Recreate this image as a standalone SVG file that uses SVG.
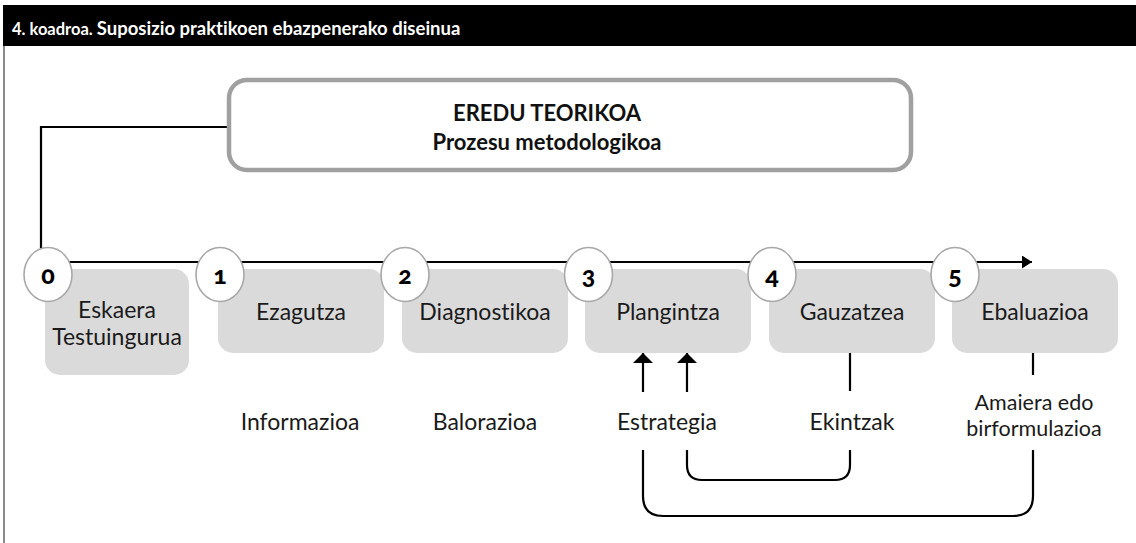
<svg xmlns="http://www.w3.org/2000/svg" width="1136" height="543" viewBox="0 0 1136 543">
<style>
.t{font-family:Lato,"Open Sans","Liberation Sans",sans-serif;fill:#1a1a1a;font-size:23px;text-anchor:middle;font-variant-ligatures:none}
.h{font-weight:bold;font-size:22px;fill:#111}
.s{font-size:21.5px}
.num{font-family:Lato,"Open Sans","Liberation Sans",sans-serif;font-weight:900;font-size:25px;fill:#000;text-anchor:middle;font-variant-numeric:oldstyle-nums}
.box{fill:#dadada}
.circ{fill:#fff;stroke:#a8a8a8;stroke-width:1.6}
.ln{fill:none;stroke:#000;stroke-width:2.2}
</style>
<defs>
<marker id="ah" viewBox="0 0 10 13" refX="10" refY="6.5" markerWidth="10" markerHeight="13" markerUnits="userSpaceOnUse" orient="auto">
<path d="M0,0 L10,6.5 L0,13 Z" fill="#000"/>
</marker>
<marker id="up" viewBox="0 0 10 20" refX="10" refY="10" markerWidth="10" markerHeight="20" markerUnits="userSpaceOnUse" orient="auto">
<path d="M0,0 L10,10 L0,20 Z" fill="#000"/>
</marker>
</defs>
<rect x="0" y="0" width="1136" height="543" fill="#fff"/>
<g id="header">
<rect x="3" y="5" width="1133" height="41" fill="#000"/>
<line x1="4" y1="46" x2="4" y2="543" stroke="#8a8a8a" stroke-width="2"/>
<text x="12" y="35" font-family="Lato,'Open Sans','Liberation Sans',sans-serif" font-weight="bold" fill="#fff" style="font-variant-ligatures:none"><tspan font-size="16.5">4. koadroa. </tspan><tspan font-size="18.5">Suposizio praktikoen ebazpenerako diseinua</tspan></text>
</g>
<g id="connectors">
<path class="ln" d="M229,127 H41 V248"/>
<path class="ln" d="M41,262 H1032" marker-end="url(#ah)"/>
<path class="ln" d="M643,392 V353" marker-end="url(#up)"/>
<path class="ln" d="M687,392 V353" marker-end="url(#up)"/>
<path class="ln" d="M850,353 V391"/>
<path class="ln" d="M1033,353 V375"/>
<path class="ln" d="M687,450 V465 Q687,480 702,480 H835 Q850,480 850,465 V450"/>
<path class="ln" d="M643,450 V496 Q643,516 663,516 H1013 Q1033,516 1033,496 V450"/>
</g>
<g id="model">
<rect x="229" y="80" width="682" height="90" rx="18" fill="#fff" stroke="#a0a0a0" stroke-width="4.5"/>
<text class="t h" x="547" y="121">EREDU TEORIKOA</text>
<text class="t h" x="547" y="150">Prozesu metodologikoa</text>
</g>
<g id="step0">
<rect class="box" x="45" y="269" width="144" height="106" rx="15"/>
<text class="t" x="117" y="318">Eskaera</text>
<text class="t" x="117" y="345">Testuingurua</text>
<ellipse class="circ" cx="48" cy="274.5" rx="24" ry="27"/>
<text class="num" x="48" y="284">0</text>
</g>
<g id="step1">
<rect class="box" x="218" y="269" width="166" height="84" rx="15"/>
<text class="t" x="301" y="320">Ezagutza</text>
<ellipse class="circ" cx="220" cy="274.5" rx="24" ry="27"/>
<text class="num" x="220" y="284">1</text>
</g>
<g id="step2">
<rect class="box" x="402" y="269" width="166" height="84" rx="15"/>
<text class="t" x="485" y="320">Diagnostikoa</text>
<ellipse class="circ" cx="405" cy="274.5" rx="24" ry="27"/>
<text class="num" x="405" y="284">2</text>
</g>
<g id="step3">
<rect class="box" x="585" y="269" width="166" height="84" rx="15"/>
<text class="t" x="668" y="320">Plangintza</text>
<ellipse class="circ" cx="588.5" cy="274.5" rx="24" ry="27"/>
<text class="num" x="588.5" y="284">3</text>
</g>
<g id="step4">
<rect class="box" x="769" y="269" width="166" height="84" rx="15"/>
<text class="t" x="852" y="320">Gauzatzea</text>
<ellipse class="circ" cx="772" cy="274.5" rx="24" ry="27"/>
<text class="num" x="772" y="284">4</text>
</g>
<g id="step5">
<rect class="box" x="952" y="269" width="166" height="84" rx="15"/>
<text class="t" x="1035" y="320">Ebaluazioa</text>
<ellipse class="circ" cx="955" cy="274.5" rx="24" ry="27"/>
<text class="num" x="955" y="284">5</text>
</g>
<g id="labels">
<text class="t" x="300" y="430">Informazioa</text>
<text class="t" x="485" y="430">Balorazioa</text>
<text class="t" x="667" y="430">Estrategia</text>
<text class="t" x="852" y="430">Ekintzak</text>
<text class="t s" x="1034" y="410">Amaiera edo</text>
<text class="t s" x="1034" y="436">birformulazioa</text>
</g>
</svg>
